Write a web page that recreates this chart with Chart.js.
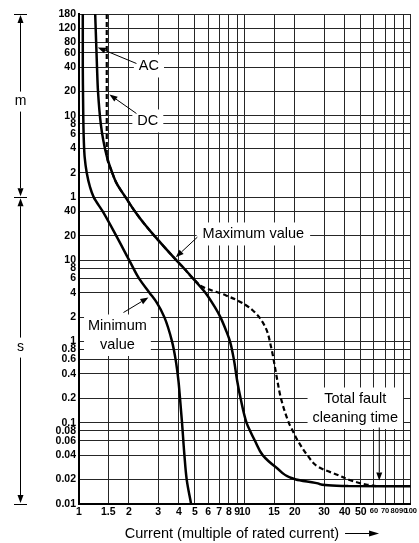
<!DOCTYPE html>
<html>
<head>
<meta charset="utf-8">
<script src="https://cdn.jsdelivr.net/npm/chart.js@4.4.1/dist/chart.umd.min.js"></script>
<style>
  html, body { margin: 0; padding: 0; background: #fff; }
  canvas { display: block; }
</style>
</head>
<body>
<canvas id="chart" width="419" height="543"></canvas>
<script>
// current in multiples of rated current
const xTicks = [1, 1.5, 2, 3, 4, 5, 6, 7, 8, 9, 10, 15, 20, 30, 40, 50, 60, 70, 80, 90, 100];
// time in seconds, 60 s and up is labelled in minutes
const yTicks = [0.01, 0.02, 0.04, 0.06, 0.08, 0.1, 0.2, 0.4, 0.6, 0.8, 1, 2, 4, 6, 8, 10, 20, 40,
                60, 120, 240, 360, 480, 600, 1200, 2400, 3600, 4800, 7200, 10800];

// minimum value curve
const minCurrent = [1.054, 1.054, 1.054, 1.057, 1.061, 1.069, 1.082, 1.113, 1.165, 1.226, 1.39, 1.678, 2.01, 2.3, 2.66, 2.95, 3.27, 3.64, 3.824, 3.976, 4.064, 4.18, 4.32, 4.46, 4.74];
const minTime    = [10800, 4800, 2400, 1200, 600, 300, 186, 120, 80, 60, 40, 20, 10, 6, 4, 3, 2, 1, 0.6, 0.33, 0.2, 0.1, 0.04, 0.02, 0.01];

// maximum value curve, AC
const acCurrent = [1.252, 1.269, 1.284, 1.302, 1.353, 1.401, 1.476, 1.585, 1.68, 1.906, 2.175, 2.481, 2.85, 3.867, 4.291, 4.861, 5.781, 6.597, 7.119, 7.7, 8.14, 8.585, 8.985, 9.422, 10.24, 10.74, 11.5, 12.8, 15.4, 20.3, 28.1, 42, 100];
const acTime    = [10800, 4800, 2400, 1200, 480, 300, 186, 120, 90, 60, 40, 28, 20, 10, 8, 6, 4, 2.65, 2, 1.37, 1, 0.6, 0.33, 0.2, 0.1, 0.08, 0.06, 0.04, 0.0284, 0.02, 0.0177, 0.0166, 0.0165];

// maximum value curve, DC
const dcCurrent = [1.47, 1.47, 1.47, 1.47, 1.476, 1.585, 1.68, 1.906, 2.175, 2.481, 2.85, 3.867, 4.291, 4.861, 5.6, 7.7, 9.9, 11.7, 13.3, 14.4, 15.31, 15.7, 16.5, 18.41, 19.41, 20.86, 23.79, 27.91, 37.1, 43.6, 53.7, 62];
const dcTime    = [10800, 2400, 600, 230, 186, 120, 90, 60, 40, 28, 20, 10, 8, 6, 4.7, 3.7, 2.9, 2.2, 1.5, 0.85, 0.44, 0.33, 0.2, 0.1, 0.08, 0.06, 0.04, 0.0284, 0.0224, 0.0195, 0.0174, 0.0166];

const FONT = '"Liberation Sans", Arial, Helvetica, sans-serif';
const NARROW = '"Liberation Sans Narrow", "Liberation Sans", Arial, sans-serif';

function points(xs, ts) {
    return xs.map((v, i) => ({ x: v, y: ts[i] }));
}

function arrow(ctx, x1, y1, x2, y2, len, half) {
    const a = Math.atan2(y2 - y1, x2 - x1);
    const bx = x2 - len * Math.cos(a), by = y2 - len * Math.sin(a);
    ctx.beginPath();
    ctx.moveTo(x1, y1);
    ctx.lineTo(bx, by);
    ctx.stroke();
    ctx.beginPath();
    ctx.moveTo(x2, y2);
    ctx.lineTo(bx + half * Math.sin(a), by - half * Math.cos(a));
    ctx.lineTo(bx - half * Math.sin(a), by + half * Math.cos(a));
    ctx.closePath();
    ctx.fill();
}

// label boxes and pointer arrows, placed in data coordinates
const notes = [
    { lines: ['AC'], x: 2.64, t: 2178, padX: 5, from: [2.22, 2655], to: [1.298, 4180] },
    { lines: ['DC'], x: 2.60, t: 458, padX: 5, from: [2.22, 643], to: [1.526, 1101] },
    { lines: ['Maximum value'], x: 11.25, t: 18.6, padX: 6, from: [5.17, 19.3], to: [3.83, 10.9] },
    { lines: ['Minimum', 'value'], x: 1.705, t: 1.369, padX: 4, from: [1.854, 2.28], to: [2.62, 3.49] },
    { lines: ['Total fault', 'cleaning time'], x: 46.3, t: 0.1728, padX: 5, from: [64.6, 0.0876], to: [64.6, 0.0195] }
];

const decorations = {
    id: 'decorations',
    afterDatasetsDraw(chart) {
        const { ctx, chartArea, scales: { x, y } } = chart;
        const px = v => x.getPixelForValue(v);
        const py = v => y.getPixelForValue(v);
        ctx.save();
        ctx.fillStyle = '#000';
        ctx.strokeStyle = '#000';
        ctx.lineWidth = 1;

        // annotation boxes
        ctx.font = '14.5px ' + FONT;
        ctx.textAlign = 'center';
        ctx.textBaseline = 'alphabetic';
        const lineGap = 18.5;
        notes.forEach(n => {
            const cx = px(n.x), base = py(n.t);
            const w = Math.max(...n.lines.map(s => ctx.measureText(s).width));
            const top = base - 12 - 4;
            const bottom = base + (n.lines.length - 1) * lineGap + 4 + 3;
            ctx.fillStyle = '#fff';
            ctx.fillRect(cx - w / 2 - n.padX, top, w + 2 * n.padX, bottom - top);
            ctx.fillStyle = '#000';
            n.lines.forEach((s, i) => ctx.fillText(s, cx, base + i * lineGap));
            arrow(ctx, px(n.from[0]), py(n.from[1]), px(n.to[0]), py(n.to[1]), 8, 3);
        });

        // m / s span arrows on the left
        const lx = Math.round(chartArea.left - 59) + 0.5;
        const top = py(10800), mid = py(60), bot = py(0.01);
        [top, mid, bot].forEach(v => {
            ctx.beginPath();
            ctx.moveTo(lx - 6.5, Math.round(v) + 0.5);
            ctx.lineTo(lx + 6.5, Math.round(v) + 0.5);
            ctx.stroke();
        });
        const mY = (top + mid) / 2 - 4;
        const sY = (mid + bot) / 2 - 3;
        arrow(ctx, lx, mY - 10, lx, top + 1, 8, 3);
        arrow(ctx, lx, mY + 10, lx, mid - 1, 8, 3);
        arrow(ctx, lx, sY - 10, lx, mid + 1, 8, 3);
        arrow(ctx, lx, sY + 10, lx, bot - 1, 8, 3);
        ctx.font = '14px ' + FONT;
        ctx.textBaseline = 'middle';
        ctx.fillText('m', lx, mY);
        ctx.fillText('s', lx, sY);

        // x axis title with arrow
        const title = 'Current (multiple of rated current)';
        ctx.font = '14.5px ' + FONT;
        ctx.textBaseline = 'alphabetic';
        const tw = ctx.measureText(title).width;
        const tx = (chartArea.left + chartArea.right) / 2 - 13;
        ctx.fillText(title, tx, chartArea.bottom + 34);
        const ay = chartArea.bottom + 29.5;
        arrow(ctx, tx + tw / 2 + 6, ay, tx + tw / 2 + 40, ay, 10, 3);
        ctx.restore();
    }
};

const gridStyle = { color: '#262626', lineWidth: 1, drawTicks: false };

// curves are interpolated along the time axis so steep parts stay smooth
const curveStyle = {
    borderColor: '#000',
    pointRadius: 0,
    indexAxis: 'y',
    cubicInterpolationMode: 'monotone'
};

new Chart(document.getElementById('chart'), {
    type: 'line',
    data: {
        datasets: [
            Object.assign({ label: 'Minimum value', data: points(minCurrent, minTime), borderWidth: 2.5 }, curveStyle),
            Object.assign({ label: 'Maximum value AC', data: points(acCurrent, acTime), borderWidth: 2.5 }, curveStyle),
            Object.assign({ label: 'Maximum value DC', data: points(dcCurrent, dcTime), borderWidth: 2.2, borderDash: [5, 3] }, curveStyle)
        ]
    },
    options: {
        responsive: false,
        animation: false,
        devicePixelRatio: 1,
        layout: { padding: { top: 14, right: 7, left: 0, bottom: 0 } },
        plugins: {
            legend: { display: false },
            tooltip: { enabled: false }
        },
        scales: {
            x: {
                type: 'logarithmic',
                min: 1,
                max: 100,
                afterBuildTicks: s => { s.ticks = xTicks.map(v => ({ value: v })); },
                afterFit: s => { s.height = 39; },
                grid: gridStyle,
                border: { display: true, color: '#000', width: 2 },
                ticks: {
                    autoSkip: false,
                    maxRotation: 0,
                    minRotation: 0,
                    padding: 2,
                    color: '#000',
                    font: c => (c.tick && c.tick.value >= 60)
                        ? { family: NARROW, size: 7.5, weight: 'bold' }
                        : { family: NARROW, size: 10.5, weight: 'bold' },
                    callback: v => String(v)
                }
            },
            y: {
                type: 'logarithmic',
                min: 0.01,
                max: 10800,
                afterBuildTicks: s => { s.ticks = yTicks.map(v => ({ value: v })); },
                afterFit: s => { s.width = 79; },
                grid: gridStyle,
                border: { display: true, color: '#000', width: 2 },
                ticks: {
                    autoSkip: false,
                    padding: 3,
                    color: '#000',
                    font: { family: FONT, size: 10.5, weight: 'bold' },
                    callback: v => v >= 60 ? String(v / 60) : String(v)
                }
            }
        }
    },
    plugins: [decorations]
});
</script>
</body>
</html>
